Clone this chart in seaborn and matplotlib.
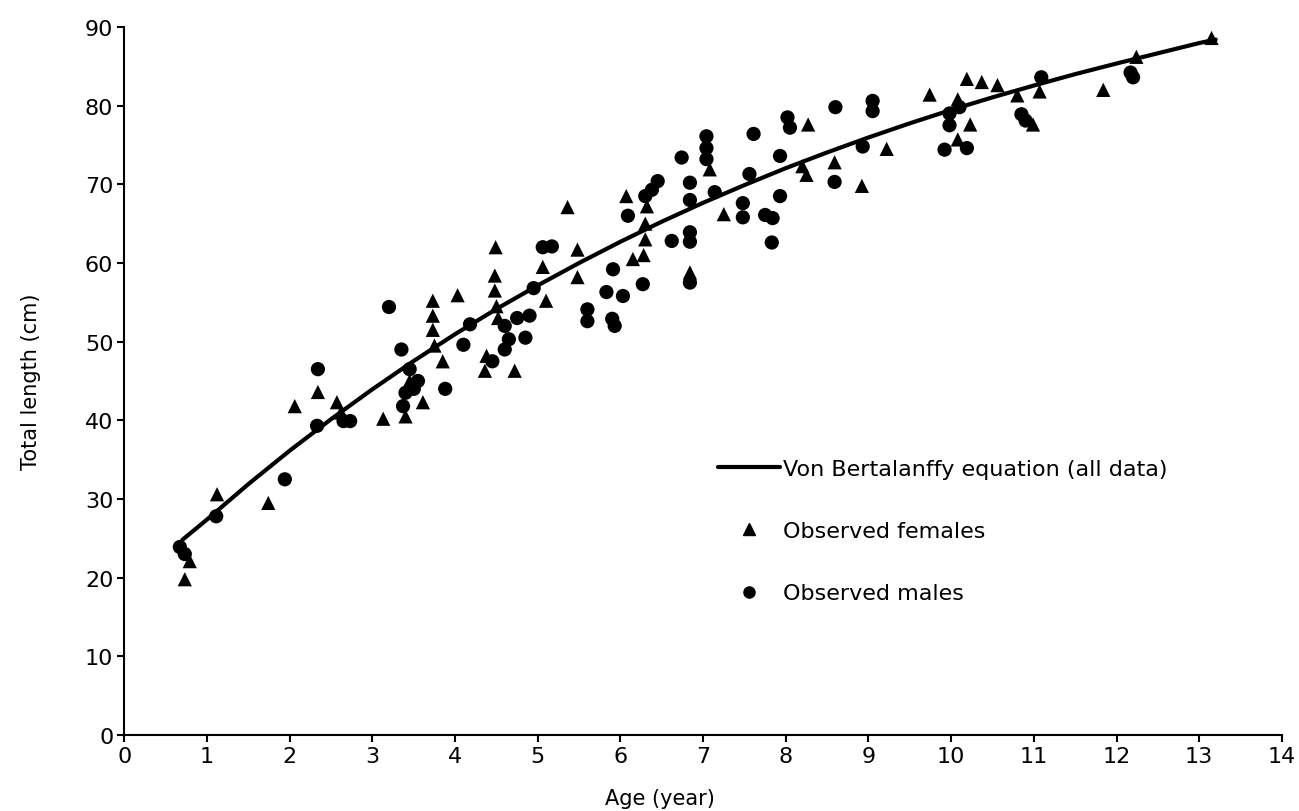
import matplotlib
matplotlib.use('Agg')
import pandas as pd
import matplotlib.pyplot as plt
import seaborn as sns
from matplotlib.lines import Line2D

# observed females (age in years, total length in cm)
fem_age = [0.73, 0.79, 1.12, 1.74, 2.06, 2.34, 2.57, 2.62, 3.13, 3.40, 3.61, 3.45,
           3.73, 3.73, 3.73, 3.75, 3.85, 4.03, 4.38, 4.36, 4.72, 4.49, 4.48, 4.48,
           4.50, 4.52, 5.10, 5.06, 5.36, 5.48, 5.48, 6.07, 6.15, 6.30, 6.30, 6.28,
           6.32, 6.84, 7.08, 7.25, 8.20, 8.25, 8.27, 8.59, 8.92, 9.22, 9.74, 10.08,
           10.08, 10.19, 10.23, 10.37, 10.56, 10.80, 10.99, 11.07, 11.84, 12.24, 13.15]
fem_len = [19.8, 22.1, 30.6, 29.5, 41.8, 43.6, 42.3, 41.0, 40.2, 40.5, 42.3, 45.0,
           55.2, 53.3, 51.5, 49.5, 47.5, 55.9, 48.2, 46.3, 46.3, 62.0, 58.4, 56.5,
           54.5, 53.0, 55.2, 59.5, 67.1, 61.7, 58.2, 68.5, 60.5, 65.0, 63.0, 61.0,
           67.2, 58.8, 71.9, 66.2, 72.3, 71.2, 77.6, 72.8, 69.8, 74.5, 81.4, 80.8,
           75.7, 83.4, 77.6, 83.0, 82.6, 81.3, 77.6, 81.8, 82.0, 86.2, 88.6]

# observed males
mal_age = [0.67, 0.73, 1.11, 1.94, 2.34, 2.33, 2.65, 2.73, 3.20, 3.35, 3.37, 3.40,
           3.45, 3.55, 3.50, 3.88, 4.10, 4.18, 4.45, 4.60, 4.75, 4.90, 4.65, 4.85,
           4.60, 4.95, 5.06, 5.17, 5.60, 5.60, 5.83, 5.90, 5.93, 5.91, 6.03, 6.09,
           6.27, 6.30, 6.38, 6.45, 6.62, 6.74, 6.84, 6.84, 6.84, 6.84, 6.84, 7.04,
           7.04, 7.04, 7.14, 7.48, 7.48, 7.56, 7.61, 7.75, 7.84, 7.83, 7.93, 7.93,
           8.02, 8.05, 8.60, 8.59, 8.93, 9.05, 9.05, 9.92, 9.98, 9.98, 10.10, 10.19,
           10.85, 10.90, 11.09, 12.20, 12.17]
mal_len = [23.9, 23.0, 27.8, 32.5, 46.5, 39.3, 39.9, 39.9, 54.4, 49.0, 41.8, 43.5,
           46.5, 45.0, 44.0, 44.0, 49.6, 52.2, 47.5, 52.0, 53.0, 53.3, 50.3, 50.5,
           49.0, 56.8, 62.0, 62.1, 54.1, 52.6, 56.3, 52.9, 52.0, 59.2, 55.8, 66.0,
           57.3, 68.5, 69.3, 70.4, 62.8, 73.4, 63.9, 62.7, 70.2, 68.0, 57.5, 76.1,
           74.6, 73.2, 69.0, 67.6, 65.8, 71.3, 76.4, 66.1, 65.7, 62.6, 73.6, 68.5,
           78.5, 77.2, 79.8, 70.3, 74.8, 80.6, 79.3, 74.4, 79.0, 77.5, 79.8, 74.6,
           78.9, 78.1, 83.6, 83.6, 84.2]

# von Bertalanffy curve as drawn
vb_age = [0.7, 1, 1.5, 2, 2.5, 3, 3.5, 4, 4.5, 5, 5.5, 6, 6.5, 7, 7.5, 8, 8.5,
          9, 9.5, 10, 10.5, 11, 11.5, 12, 12.5, 13, 13.2]
vb_len = [24.8, 27.4, 31.9, 36.15, 40.15, 43.95, 47.55, 50.95, 54.15, 57.15, 60.0,
          62.7, 65.25, 67.65, 69.9, 72.05, 74.05, 75.95, 77.75, 79.45, 81.05,
          82.55, 84.0, 85.35, 86.65, 87.95, 88.4]

sns.set_style('ticks')
plt.rcParams['font.family'] = ['DejaVu Sans']
plt.rcParams['text.color'] = 'black'
plt.rcParams['axes.labelcolor'] = 'black'
plt.rcParams['xtick.color'] = 'black'
plt.rcParams['ytick.color'] = 'black'

obs = pd.concat([
    pd.DataFrame({'age': fem_age, 'length': fem_len, 'sex': 'female'}),
    pd.DataFrame({'age': mal_age, 'length': mal_len, 'sex': 'male'}),
])
curve = pd.DataFrame({'age': vb_age, 'length': vb_len})

fig = plt.figure(figsize=(12.99, 8.12), dpi=100)
ax = fig.add_axes([0.0958, 0.0936, 0.891, 0.872])

sns.lineplot(data=curve, x='age', y='length', color='black', lw=3, ax=ax)
sns.scatterplot(data=obs, x='age', y='length', style='sex',
                markers={'female': '^', 'male': 'o'}, color='black',
                s=105, edgecolor='none', ax=ax, legend=False)

ax.set_xlim(0, 14)
ax.set_ylim(0, 90)
ax.set_xticks(range(0, 15))
ax.set_yticks(range(0, 100, 10))
sns.despine(ax=ax)
for s in ['left', 'bottom']:
    ax.spines[s].set_linewidth(1.5)
    ax.spines[s].set_color('black')
ax.tick_params(length=5, width=1.5, labelsize=16, pad=3)

ax.set_xlabel('Age (year)', fontsize=15)
ax.set_ylabel('Total length (cm)', fontsize=15)
ax.xaxis.set_label_coords(0.463, -0.075)
ax.yaxis.set_label_coords(-0.072, 0.5)

handles = [Line2D([], [], color='black', lw=3),
           Line2D([], [], color='black', marker='^', ls='none', markersize=8),
           Line2D([], [], color='black', marker='o', ls='none', markersize=8)]
labels = ['Von Bertalanffy equation (all data)', 'Observed females', 'Observed males']
ax.legend(handles, labels, loc='upper left', bbox_to_anchor=(0.513, 0.39),
          frameon=False, fontsize=16, handlelength=2.8, handletextpad=0.1,
          labelspacing=1.9, borderpad=0, borderaxespad=0)

fig.savefig('out.png', dpi=100)
